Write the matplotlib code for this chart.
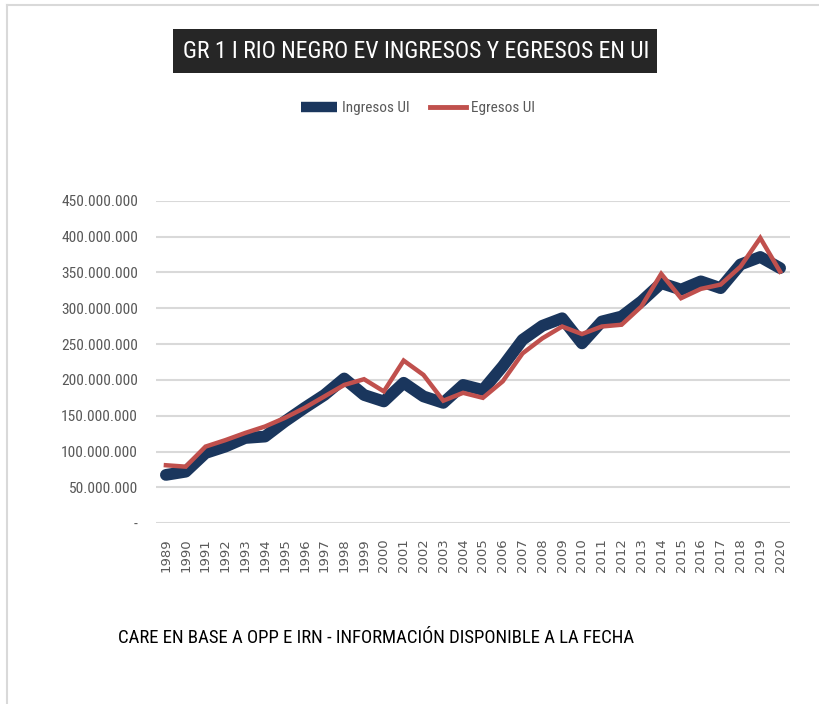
import matplotlib.pyplot as plt
from matplotlib.lines import Line2D
from matplotlib.patches import Rectangle
from matplotlib.ticker import FuncFormatter
from matplotlib import font_manager

years = list(range(1989, 2021))
ingresos = [67.5, 72, 98, 107, 119, 121, 142, 161, 179, 202, 179, 170, 196, 177, 168, 193,
            186, 219, 256, 275.5, 286, 251, 281.5, 288.5, 309.5, 335, 326, 337.5, 328, 361, 371.5, 356]
egresos = [81, 79, 107, 116, 126, 135, 147, 161, 177, 193, 201, 184, 227, 207, 171, 182,
           175, 198, 237, 258, 274.5, 264, 274.5, 277, 302.5, 348, 314, 327, 333, 358, 398, 351]
ingresos = [v * 1e6 for v in ingresos]
egresos = [v * 1e6 for v in egresos]

title = 'GR 1 I RIO NEGRO EV INGRESOS Y EGRESOS EN UI'
footer = 'CARE EN BASE A OPP E IRN - INFORMACIÓN DISPONIBLE A LA FECHA'

# fuente angosta tipo Calibri, la primera que exista
names = {f.name for f in font_manager.fontManager.ttflist}
narrow = 'DejaVu Sans'
for cand in ['Liberation Sans Narrow', 'Roboto Condensed', 'Open Sans Condensed', 'Roboto', 'Liberation Sans']:
    if cand in names:
        narrow = cand
        break

fig = plt.figure(figsize=(8.19, 7.04), dpi=100)
renderer = fig.canvas.get_renderer()


def fit_width(t, width_px):
    # ajusta el tamaño de letra para que el texto mida width_px
    w = t.get_window_extent(renderer).width
    t.set_fontsize(t.get_fontsize() * width_px / w)


def px(xp, yp):
    return xp / 819, 1 - yp / 704


# marco gris claro (arriba e izquierda)
fig.add_artist(Line2D([7 / 819, 1], [1 - 5 / 704] * 2, transform=fig.transFigure,
                      color='#d9d9d9', linewidth=1.5))
fig.add_artist(Line2D([7 / 819] * 2, [0, 1 - 5 / 704], transform=fig.transFigure,
                      color='#d9d9d9', linewidth=1.5))

ax = fig.add_axes([156 / 819, 1 - 523.3 / 704, 634 / 819, (523.3 - 200.7) / 704])
x = list(range(len(years)))
ax.plot(x, ingresos, color='#1a365d', linewidth=8.5, solid_joinstyle='round',
        solid_capstyle='round', label='Ingresos UI', zorder=3)
ax.plot(x, egresos, color='#c0504d', linewidth=3.2, solid_joinstyle='miter',
        label='Egresos UI', zorder=4)

ax.set_xlim(-0.5, len(years) - 0.5)
ax.set_ylim(0, 450e6)
ax.set_yticks([i * 50e6 for i in range(10)])
ax.yaxis.set_major_formatter(FuncFormatter(
    lambda v, p: '-' if v == 0 else f'{int(v):,}'.replace(',', '.')))
ax.set_xticks(x)
ax.set_xticklabels(years, rotation=90, fontsize=9.5, color='#595959')

probe = fig.text(0, 0, '450.000.000', family=narrow, fontsize=10)
fit_width(probe, 76)
ysize = probe.get_fontsize()
probe.remove()
ax.tick_params(axis='y', labelsize=ysize, labelcolor='#595959', pad=13)
for lbl in ax.get_yticklabels():
    lbl.set_fontfamily(narrow)
ax.tick_params(axis='both', length=0)
ax.tick_params(axis='x', pad=11)
ax.grid(axis='y', color='#d9d9d9', linewidth=1.5)
ax.set_axisbelow(True)
for s in ax.spines.values():
    s.set_visible(False)

# titulo en caja negra
bx0, by0 = px(173, 73)
bx1, by1 = px(657, 29)
fig.add_artist(Rectangle((bx0, by0), bx1 - bx0, by1 - by0, transform=fig.transFigure,
                         facecolor='#262626', edgecolor='none'))
tt = fig.text(*px(416, 51), title, ha='center', va='center', color='white',
              fontsize=18, family=narrow)
fit_width(tt, 466)

# leyenda
probe = fig.text(0, 0, 'Ingresos UI', family=narrow, fontsize=12)
fit_width(probe, 68)
lsize = probe.get_fontsize()
probe.remove()
em = lsize * 100 / 72
leg = fig.legend(loc='center', bbox_to_anchor=px(418, 108), ncol=2,
                 frameon=False, handlelength=36 / em, columnspacing=20 / em,
                 handletextpad=5 / em, prop={'family': narrow, 'size': lsize})
for t in leg.get_texts():
    t.set_color('#595959')
leg.legend_handles[0].set_linewidth(7.5)
leg.legend_handles[0].set_solid_capstyle('butt')
leg.legend_handles[1].set_linewidth(3.5)

ft = fig.text(*px(118, 638), footer, ha='left', va='center', color='black',
              fontsize=13, family=narrow)
fit_width(ft, 515)

fig.savefig('out.png', dpi=100)
